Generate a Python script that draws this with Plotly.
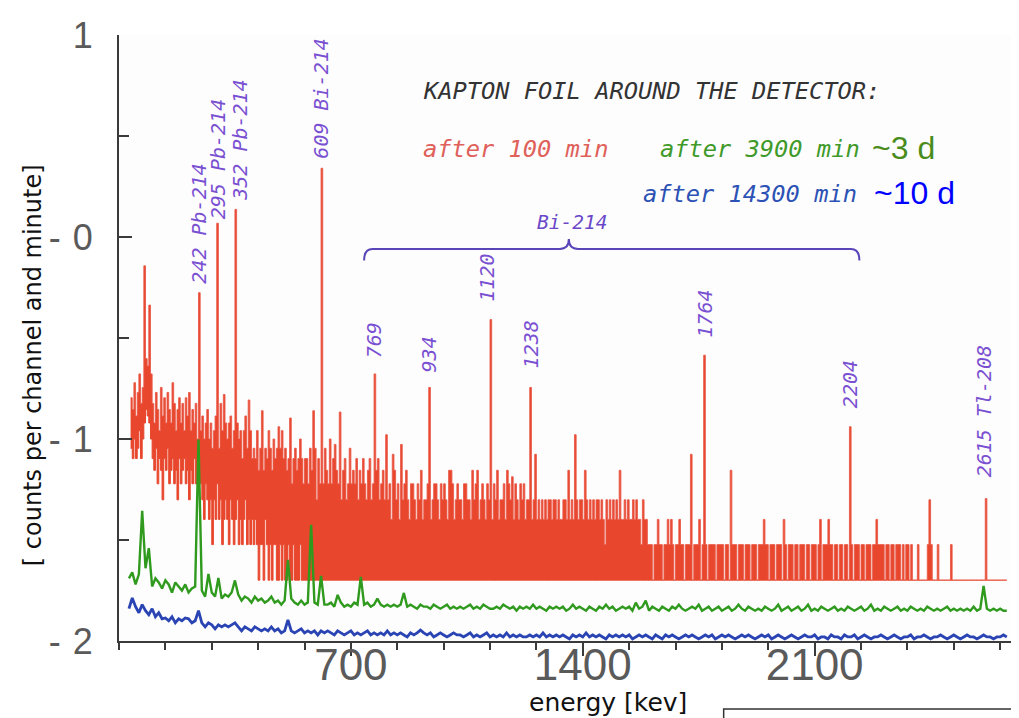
import math
import plotly.graph_objects as go

# ---------------- data ----------------
# red spectrum "after 100 min": per 5 keV bin, the highest (hi) and lowest (lo) counts
# drawn in that bin; bins start at 35 keV. Above 560 keV the lowest level is the floor.
RED_E0_KEV = 35
RED_STEP_KEV = 5
RED_LIVE_MIN = 100
RED_FLOOR_COUNTS = 2

red_hi_035_095 = [16, 14, 19, 13, 17, 21, 15, 18, 22, 25, 23, 26, 21]
red_hi_100_240 = [15, 12, 17, 14, 11, 18, 13, 16, 12, 17, 14, 12, 19, 15, 11,
                  14, 16, 12, 15, 11, 16, 13, 17, 11, 14, 12, 15, 10, 13]
red_hi_245_400 = [11, 13, 10, 12, 14, 10, 12, 9, 11, 13, 12, 9, 15, 11, 9, 12,
                  10, 12, 13, 9, 11, 9, 12, 10, 11, 8, 11, 13, 9, 10, 11, 8]
red_hi_405_560 = [9, 8, 11, 7, 9, 10, 7, 9, 8, 11, 9, 7, 10, 8, 9, 6,
                  9, 11, 8, 9, 7, 8, 10, 6, 8, 9, 7, 8, 10, 8, 6, 8]
red_hi_565_800 = [8, 6, 9, 7, 6, 9, 5, 8, 6, 7, 6, 9, 7, 6, 10, 6,
                  8, 5, 7, 6, 8, 5, 7, 8, 5, 6, 9, 6, 7, 6, 8, 5,
                  7, 6, 8, 6, 5, 7, 8, 5, 6, 5, 7, 8, 5, 6, 7, 5]
red_hi_805_1250 = [6, 5, 6, 4, 5, 7, 5, 6, 4, 6, 5, 6, 7, 5, 4,
                   6, 6, 5, 4, 6, 5, 7, 4, 5, 5, 6, 6, 4, 5, 6,
                   6, 5, 4, 6, 5, 6, 5, 4, 7, 5, 6, 4, 5, 6, 5,
                   5, 4, 6, 6, 5, 5, 4, 7, 5, 6, 6, 4, 5, 6, 5,
                   4, 6, 5, 5, 4, 6, 5, 7, 4, 5, 5, 6, 4, 5, 6,
                   5, 5, 4, 6, 5, 4, 6, 5, 6, 4, 5, 5, 6, 4, 5]
red_hi_1255_1590 = [5, 4, 5, 4, 5, 4, 5, 4, 5, 5, 4, 5, 5, 4, 5, 4, 4,
                    5, 5, 4, 5, 4, 5, 4, 3, 5, 4, 5, 5, 4, 4, 5, 4, 5,
                    4, 5, 4, 5, 5, 4, 5, 4, 3, 5, 4, 5, 4, 5, 4, 5, 4,
                    5, 4, 4, 5, 4, 5, 4, 4, 5, 4, 5, 4, 4, 3, 5, 4, 4]
red_hi_1595_2200 = [3, 3, 3, 2, 3, 3, 4, 3, 3, 2, 3, 3, 3, 3, 4, 3, 2, 3, 3, 3,
                    3, 3, 2, 3, 3, 3, 3, 2, 3, 3, 3, 3, 2, 3, 3, 3, 2, 3, 3, 3,
                    3, 2, 3, 3, 3, 3, 2, 3, 3, 2, 3, 3, 3, 3, 2, 3, 3, 3, 2, 3,
                    3, 3, 2, 3, 3, 3, 2, 3, 3, 3, 2, 3, 3, 2, 3, 3, 3, 2, 3, 3,
                    3, 2, 3, 3, 2, 3, 3, 3, 2, 3, 3, 2, 3, 3, 3, 2, 3, 3, 2, 3,
                    3, 3, 2, 3, 3, 2, 3, 3, 3, 2, 3, 3, 2, 3, 3, 2, 3, 3, 2, 3,
                    3, 2]
red_hi_2205_2680 = [3, 3, 2, 3, 3, 3, 2, 3, 3, 2, 3, 3, 3, 2, 3, 3, 2, 3, 3, 3,
                    3, 2, 3, 3, 2, 3, 3, 2, 3, 3, 3, 2, 3, 2, 3, 3, 2, 3, 2, 2,
                    2, 3, 2, 2, 2, 2, 2, 3, 3, 3, 2, 2, 2, 3, 2, 2, 2, 2, 2, 2,
                    2, 3, 2, 2, 2, 2, 2, 2, 2, 2, 2, 2, 2, 2, 2, 2, 2, 2, 2, 2,
                    2, 2, 2, 2, 2, 2, 2, 2, 2, 2, 2, 2, 2, 2, 2, 2]

red_lo_035_095 = [9, 8, 10, 8, 9, 11, 8, 10, 12, 14, 13, 12, 10]
red_lo_100_240 = [8, 7, 9, 6, 8, 7, 5, 8, 7, 9, 6, 7, 8, 6, 7,
                  5, 8, 6, 7, 8, 6, 7, 5, 7, 6, 8, 6, 7, 6]
red_lo_245_400 = [6, 5, 4, 6, 5, 4, 5, 3, 5, 4, 6, 4, 5, 3, 4, 5,
                  4, 3, 5, 4, 3, 4, 5, 3, 4, 3, 4, 5, 3, 4, 3, 4]
red_lo_405_560 = [3, 4, 3, 2, 3, 3, 2, 4, 3, 2, 3, 2, 3, 3, 2, 2,
                  3, 2, 3, 2, 2, 3, 2, 2, 3, 2, 2, 2, 3, 2, 2, 2]

# single-bin spikes of the red spectrum (keV, counts)
red_peak_kev = [75, 90, 240, 295, 315, 350, 390, 430, 480, 515, 585, 610, 650, 665,
                770, 805, 825, 850, 935, 1000, 1080, 1120, 1170, 1185, 1240, 1255,
                1355, 1375, 1405, 1510, 1655, 1690, 1725, 1750, 1765, 1845, 1945,
                2005, 2115, 2140, 2205, 2285, 2445, 2615]
red_peak_counts = [72, 46, 53, 117, 16.6, 137, 15.6, 13.8, 11.5, 12.7, 13.8, 219, 9.4, 13.6,
                   21, 10.5, 8.4, 9.4, 18, 7, 7, 39, 7, 6.5, 18, 8.4,
                   7, 10.5, 7, 7, 4, 4, 8.4, 4, 26, 7, 4,
                   4, 4, 4, 11.5, 4, 5, 5.07]

# green ("after 3900 min") and blue ("after 14300 min"): log10 rate, 10 keV bins from 30 keV
GB_E0_KEV = 30
GB_STEP_KEV = 10
green_log_rate = [
    -1.69, -1.66, -1.72, -1.67, -1.70, -1.64, -1.68, -1.73, -1.69, -1.71,
    -1.74, -1.70, -1.72, -1.76, -1.71, -1.73, -1.75, -1.72, -1.76, -1.74,
    -1.73, -1.77, -1.75, -1.78, -1.74, -1.76, -1.78, -1.75, -1.79, -1.77,
    -1.78, -1.76, -1.79, -1.77, -1.80, -1.78, -1.79, -1.81, -1.78, -1.80,
    -1.79, -1.81, -1.80, -1.78, -1.81, -1.80, -1.82, -1.80, -1.81, -1.79,
    -1.81, -1.82, -1.80, -1.82, -1.81, -1.83, -1.81, -1.82, -1.80, -1.82,
    -1.82, -1.81, -1.83, -1.82, -1.81, -1.83, -1.82, -1.83, -1.81, -1.82,
    -1.83, -1.82, -1.81, -1.83, -1.82, -1.84, -1.82, -1.83, -1.82, -1.83,
    -1.82, -1.83, -1.82, -1.84, -1.83, -1.82, -1.83, -1.84, -1.82, -1.83,
    -1.83, -1.84, -1.82, -1.83, -1.84, -1.83, -1.82, -1.84, -1.83, -1.84,
    -1.83, -1.84, -1.83, -1.82, -1.84, -1.83, -1.84, -1.82, -1.83, -1.84,
    -1.84, -1.83, -1.84, -1.82, -1.83, -1.84, -1.83, -1.85, -1.83, -1.84,
    -1.83, -1.84, -1.82, -1.84, -1.83, -1.84, -1.85, -1.83, -1.84, -1.83,
    -1.84, -1.83, -1.85, -1.84, -1.82, -1.84, -1.83, -1.84, -1.85, -1.83,
    -1.84, -1.85, -1.83, -1.84, -1.82, -1.84, -1.83, -1.85, -1.84, -1.83,
    -1.84, -1.83, -1.85, -1.81, -1.84, -1.83, -1.84, -1.85, -1.83, -1.84,
    -1.85, -1.83, -1.84, -1.85, -1.83, -1.84, -1.82, -1.84, -1.85, -1.84,
    -1.83, -1.84, -1.82, -1.85, -1.84, -1.83, -1.85, -1.84, -1.83, -1.85,
    -1.84, -1.83, -1.85, -1.84, -1.82, -1.84, -1.85, -1.83, -1.84, -1.85,
    -1.84, -1.85, -1.83, -1.84, -1.85, -1.84, -1.82, -1.85, -1.84, -1.83,
    -1.85, -1.84, -1.83, -1.85, -1.84, -1.82, -1.85, -1.84, -1.85, -1.83,
    -1.84, -1.85, -1.84, -1.83, -1.85, -1.84, -1.85, -1.83, -1.84, -1.85,
    -1.84, -1.83, -1.85, -1.84, -1.82, -1.85, -1.84, -1.85, -1.83, -1.84,
    -1.85, -1.84, -1.83, -1.85, -1.84, -1.85, -1.83, -1.84, -1.85, -1.84,
    -1.85, -1.83, -1.84, -1.85, -1.84, -1.85, -1.84, -1.83, -1.85, -1.84,
    -1.85, -1.84, -1.85, -1.84, -1.85, -1.83, -1.85, -1.84, -1.85, -1.84,
    -1.85, -1.84, -1.85, -1.84, -1.85, -1.85,
]
green_peak_kev = [70, 90, 240, 270, 300, 350, 510, 580, 610, 660, 730, 780, 860, 1590, 2610]
green_peak_log = [-1.355, -1.54, -1.003, -1.668, -1.688, -1.70, -1.598, -1.425, -1.678,
                  -1.772, -1.683, -1.79, -1.762, -1.80, -1.727]

blue_log_rate = [
    -1.84, -1.79, -1.83, -1.86, -1.82, -1.85, -1.87, -1.84, -1.88, -1.86,
    -1.89, -1.87, -1.90, -1.88, -1.91, -1.89, -1.90, -1.92, -1.89, -1.91,
    -1.90, -1.92, -1.91, -1.93, -1.91, -1.92, -1.94, -1.92, -1.93, -1.92,
    -1.93, -1.92, -1.94, -1.93, -1.95, -1.93, -1.94, -1.95, -1.93, -1.94,
    -1.95, -1.94, -1.95, -1.93, -1.95, -1.94, -1.96, -1.95, -1.94, -1.95,
    -1.96, -1.95, -1.94, -1.96, -1.95, -1.96, -1.95, -1.97, -1.95, -1.96,
    -1.95, -1.96, -1.97, -1.95, -1.96, -1.97, -1.96, -1.95, -1.97, -1.96,
    -1.97, -1.96, -1.95, -1.97, -1.96, -1.97, -1.96, -1.97, -1.95, -1.97,
    -1.96, -1.97, -1.96, -1.97, -1.98, -1.96, -1.97, -1.96, -1.97, -1.96,
    -1.97, -1.96, -1.98, -1.97, -1.96, -1.97, -1.98, -1.97, -1.96, -1.97,
    -1.97, -1.98, -1.97, -1.96, -1.98, -1.97, -1.98, -1.97, -1.96, -1.98,
    -1.97, -1.98, -1.97, -1.98, -1.96, -1.98, -1.97, -1.98, -1.97, -1.98,
    -1.98, -1.97, -1.98, -1.97, -1.98, -1.96, -1.98, -1.97, -1.98, -1.97,
    -1.98, -1.97, -1.98, -1.99, -1.97, -1.98, -1.97, -1.98, -1.96, -1.98,
    -1.97, -1.98, -1.97, -1.98, -1.99, -1.97, -1.98, -1.97, -1.98, -1.97,
    -1.98, -1.97, -1.99, -1.98, -1.97, -1.98, -1.97, -1.98, -1.99, -1.97,
    -1.98, -1.99, -1.97, -1.98, -1.97, -1.98, -1.99, -1.98, -1.97, -1.98,
    -1.97, -1.98, -1.99, -1.98, -1.97, -1.98, -1.97, -1.99, -1.98, -1.97,
    -1.98, -1.97, -1.98, -1.99, -1.98, -1.97, -1.98, -1.97, -1.98, -1.99,
    -1.98, -1.97, -1.98, -1.97, -1.99, -1.98, -1.97, -1.98, -1.99, -1.98,
    -1.97, -1.98, -1.99, -1.98, -1.97, -1.98, -1.98, -1.97, -1.99, -1.98,
    -1.98, -1.99, -1.97, -1.98, -1.98, -1.99, -1.97, -1.98, -1.98, -1.97,
    -1.99, -1.98, -1.97, -1.98, -1.99, -1.98, -1.98, -1.97, -1.98, -1.99,
    -1.98, -1.97, -1.98, -1.99, -1.98, -1.98, -1.97, -1.99, -1.98, -1.98,
    -1.97, -1.98, -1.99, -1.98, -1.98, -1.97, -1.98, -1.99, -1.98, -1.97,
    -1.98, -1.99, -1.98, -1.97, -1.98, -1.98, -1.99, -1.98, -1.97, -1.98,
    -1.98, -1.99, -1.98, -1.98, -1.97, -1.98,
]
blue_peak_kev = [40, 70, 140, 200, 240, 350, 510, 910]
blue_peak_log = [-1.787, -1.82, -1.886, -1.886, -1.85, -1.91, -1.896, -1.946]

# peak labels
peak_label_text = ["242 Pb-214", "295 Pb-214", "352 Pb-214", "609 Bi-214", "769", "934",
                   "1120", "1238", "1764", "2204", "2615 Tl-208"]
peak_label_kev = [242, 297, 367, 611, 770, 936, 1111, 1244, 1768, 2205, 2611]
peak_label_y = [-0.24, 0.08, 0.17, 0.38, -0.61, -0.68, -0.33, -0.66, -0.51, -0.855, -1.20]

# axes
X_RANGE_KEV = [0, 2735]
Y_RANGE = [-2, 1]
x_major_kev = [700, 1400, 2100]
y_major = [-2, -1, 0, 1]
y_major_text = ["-\u20042", "-\u20041", "-\u20040", "1"]
y_minor = [-1.5, -0.5, 0.5]
CH_OFFSET_KEV = 11.3      # top axis: channel scale
KEV_PER_CH = 0.6528
ch_major = [0, 1000, 2000, 3000, 4000]

# bracket over the Bi-214 lines (keV / log units)
BRACKET_KEV = [740, 1358, 2235]
BRACKET_Y = [-0.116, -0.059, -0.010]

# ---------------- build series ----------------
red_hi = (red_hi_035_095 + red_hi_100_240 + red_hi_245_400 + red_hi_405_560
          + red_hi_565_800 + red_hi_805_1250 + red_hi_1255_1590
          + red_hi_1595_2200 + red_hi_2205_2680)
red_lo_low = red_lo_035_095 + red_lo_100_240 + red_lo_245_400 + red_lo_405_560
red_lo = red_lo_low + [RED_FLOOR_COUNTS] * (len(red_hi) - len(red_lo_low))
red_kev = [RED_E0_KEV + RED_STEP_KEV * i for i in range(len(red_hi))]
for e, c in zip(red_peak_kev, red_peak_counts):
    red_hi[round((e - RED_E0_KEV) / RED_STEP_KEV)] = c
red_lo = [min(a, b) for a, b in zip(red_lo, red_hi)]
red_hi_y = [math.log10(c / RED_LIVE_MIN) for c in red_hi]
red_lo_y = [math.log10(c / RED_LIVE_MIN) for c in red_lo]

gb_kev = [GB_E0_KEV + GB_STEP_KEV * i for i in range(len(green_log_rate))]
green_y = list(green_log_rate)
for e, v in zip(green_peak_kev, green_peak_log):
    green_y[round((e - GB_E0_KEV) / GB_STEP_KEV)] = v
blue_y = list(blue_log_rate)
for e, v in zip(blue_peak_kev, blue_peak_log):
    blue_y[round((e - GB_E0_KEV) / GB_STEP_KEV)] = v

# ---------------- figure ----------------
W, H = 1019, 718
ML, MR, MT, MB = 111, 0, 27, 85
PW, PH = W - ML - MR, H - MT - MB


def px_x(x):
    return (x - ML) / PW


def px_y(y):
    return (H - MB - y) / PH


RED = "#e8472d"
fig = go.Figure()
fig.add_trace(go.Scatter(x=red_kev, y=red_lo_y, mode="lines",
                         line=dict(color=RED, width=1, shape="hv", simplify=False),
                         hoverinfo="skip", showlegend=False))
fig.add_trace(go.Scatter(x=red_kev, y=red_hi_y, mode="lines", fill="tonexty", fillcolor=RED,
                         line=dict(color="#ea5a4a", width=0.9, shape="hv", simplify=False),
                         hoverinfo="skip", showlegend=False))
fig.add_trace(go.Scatter(x=gb_kev, y=green_y, mode="lines",
                         line=dict(color="#2f9a1e", width=2.4, simplify=False),
                         hoverinfo="skip", showlegend=False))
fig.add_trace(go.Scatter(x=gb_kev, y=blue_y, mode="lines",
                         line=dict(color="#2a44b4", width=2.8, simplify=False),
                         hoverinfo="skip", showlegend=False))

axis_col = "#3a3a3a"
tick_font = dict(family="Liberation Sans", color="#5a5a5a")
mono = "DejaVu Sans Mono"

annotations = []
for t, xk, yv in zip(peak_label_text, peak_label_kev, peak_label_y):
    annotations.append(dict(x=xk, y=yv, xref="x", yref="y", text=t, textangle=-90, showarrow=False,
                            xanchor="center", yanchor="bottom",
                            font=dict(family=mono, size=20, color="#7a50d2", style="italic")))


def header(text, x, y, color, size=23.7, family=mono, italic=True):
    return dict(x=px_x(x), y=px_y(y), xref="paper", yref="paper", text=text, showarrow=False,
                xanchor="left", yanchor="middle",
                font=dict(family=family, size=size, color=color, style="italic" if italic else "normal"))


annotations += [
    header("KAPTON FOIL AROUND THE DETECTOR:", 414, 83, "#333333"),
    header("after 100 min", 414, 141, "#e0605a"),
    header("after 3900 min", 651, 141, "#3f9a2a"),
    header("~3 d", 864, 140, "#4a8c1c", size=32, family="Liberation Sans", italic=False),
    header("after 14300 min", 634, 186, "#2d52b5"),
    header("~10 d", 866, 185, "#0000ff", size=32, family="Liberation Sans", italic=False),
    dict(x=px_x(565), y=px_y(214), xref="paper", yref="paper", text="Bi-214", showarrow=False,
         xanchor="center", yanchor="middle", font=dict(family=mono, size=19.5, color="#6a48c8", style="italic")),
    dict(x=px_x(601), y=px_y(694), xref="paper", yref="paper", text="energy [kev]", showarrow=False,
         xanchor="center", yanchor="middle", font=dict(family="DejaVu Sans", size=25, color="#111111")),
    dict(x=px_x(25), y=px_y(357), xref="paper", yref="paper", text="[ counts per channel and minute]",
         showarrow=False, textangle=-90, xanchor="center", yanchor="middle",
         font=dict(family="DejaVu Sans", size=24, color="#111111")),
]

bx0, bxc, bx1 = BRACKET_KEV
by_end, by_line, by_top = BRACKET_Y
bracket_path = (f"M {bx0},{by_end} Q {bx0},{by_line} {bx0 + 25},{by_line} "
                f"L {bxc - 28},{by_line} Q {bxc},{by_line} {bxc},{by_top} "
                f"Q {bxc},{by_line} {bxc + 28},{by_line} "
                f"L {bx1 - 25},{by_line} Q {bx1},{by_line} {bx1},{by_end}")

shapes = [
    dict(type="path", xref="x", yref="y", path=bracket_path, line=dict(color="#5a45b8", width=2)),
    dict(type="rect", xref="paper", yref="paper", x0=px_x(717), x1=px_x(1040), y0=px_y(735), y1=px_y(701),
         line=dict(color="#333333", width=1.5), fillcolor="rgba(0,0,0,0)"),
]

ch_range = [(X_RANGE_KEV[0] - CH_OFFSET_KEV) / KEV_PER_CH, (X_RANGE_KEV[1] - CH_OFFSET_KEV) / KEV_PER_CH]

fig.update_layout(
    width=W, height=H,
    margin=dict(l=ML, r=MR, t=MT, b=MB, pad=0),
    paper_bgcolor="white", plot_bgcolor="#fdfdfd",
    showlegend=False,
    xaxis=dict(range=X_RANGE_KEV, tickmode="array", tickvals=x_major_kev,
               ticktext=[str(v) for v in x_major_kev],
               ticks="outside", ticklen=13, tickwidth=1.5, tickcolor=axis_col,
               showline=True, linecolor=axis_col, linewidth=2, showgrid=False, zeroline=False,
               ticklabelstandoff=-29,
               tickfont=dict(size=44, **tick_font),
               minor=dict(tickmode="linear", tick0=0, dtick=140, ticks="outside", ticklen=7,
                          tickwidth=1.5, tickcolor=axis_col, showgrid=False)),
    xaxis2=dict(overlaying="x", side="top", anchor="y", range=ch_range, tickmode="array", tickvals=ch_major,
                ticks="inside", ticklen=12, tickwidth=1.5, tickcolor=axis_col, showticklabels=False,
                showline=True, linecolor=axis_col, linewidth=1.6, showgrid=False, zeroline=False,
                minor=dict(tickmode="linear", tick0=0, dtick=200, ticks="inside", ticklen=6,
                           tickwidth=1.5, tickcolor=axis_col, showgrid=False)),
    yaxis=dict(range=Y_RANGE, tickmode="array", tickvals=y_major, ticktext=y_major_text,
               ticks="inside", ticklen=13, tickwidth=1.5, tickcolor=axis_col,
               showline=True, linecolor=axis_col, linewidth=2, mirror="ticks",
               showgrid=False, zeroline=False, ticklabelstandoff=17,
               tickfont=dict(size=36, **tick_font),
               minor=dict(tickmode="array", tickvals=y_minor, ticks="inside", ticklen=10,
                          tickwidth=1.5, tickcolor=axis_col, showgrid=False)),
    annotations=annotations,
    shapes=shapes,
)

fig.write_html("out.html")
